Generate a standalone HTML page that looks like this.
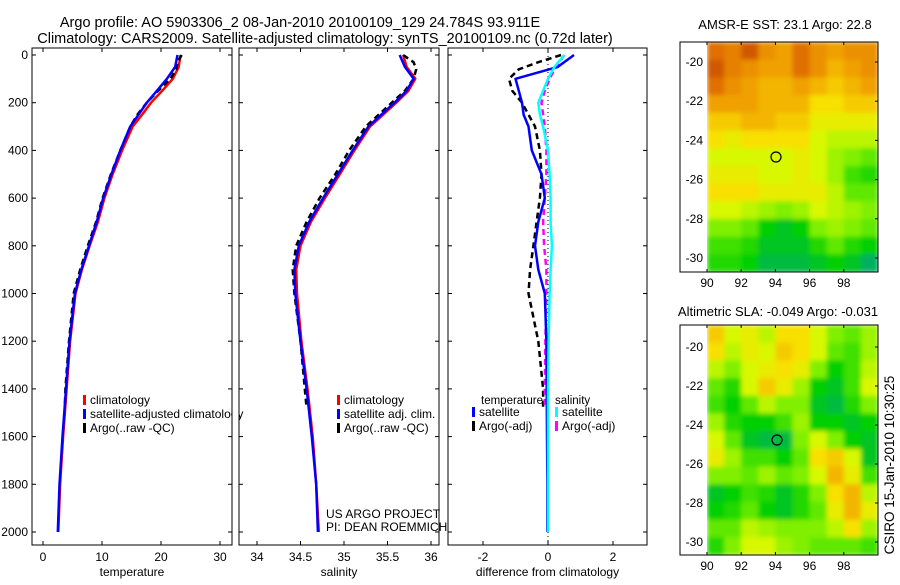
<!DOCTYPE html>
<html><head><meta charset="utf-8"><style>
body{margin:0;background:#fff;}
svg text{font-family:"Liberation Sans",sans-serif;font-size:12px;fill:#000;}
</style></head><body>
<svg id="c" width="900" height="580" xmlns="http://www.w3.org/2000/svg">
<defs>
<filter id="blur" x="0" y="0" width="1" height="1"><feGaussianBlur stdDeviation="2.5" edgeMode="duplicate"/></filter>
<clipPath id="clipTop"><rect x="707" y="42" width="171" height="230"/></clipPath>
<clipPath id="clipBot"><rect x="707" y="325" width="171" height="230"/></clipPath>
</defs>
<text x="300" y="27" text-anchor="middle" style="font-size:14.5px">Argo profile: AO 5903306_2 08-Jan-2010 20100109_129 24.784S 93.911E</text>
<text x="325" y="43" text-anchor="middle" style="font-size:14.5px">Climatology: CARS2009. Satellite-adjusted climatology: synTS_20100109.nc (0.72d later)</text>
<text x="785" y="29" text-anchor="middle" style="font-size:13px">AMSR-E SST: 23.1 Argo: 22.8</text>
<text x="778" y="316" text-anchor="middle" style="font-size:13px">Altimetric SLA: -0.049 Argo: -0.031</text>
<text transform="translate(894,465) rotate(-90)" text-anchor="middle" style="font-size:13.5px">CSIRO 15-Jan-2010 10:30:25</text>
<text x="326" y="518">US ARGO PROJECT</text>
<text x="326" y="531">PI: DEAN ROEMMICH</text>
</svg>
<script>
const depths=[0,50,100,150,200,250,300,400,500,600,700,800,900,1000,1200,1400,1600,1800,2000];
const tempClim=[23.3,23,22,20.2,18.3,16.8,15.2,13.4,11.8,10.4,9.3,7.9,6.6,5.5,4.6,4.0,3.4,2.9,2.6];
const tempSat=[22.8,22.4,21,19.3,17.6,16.2,14.8,13.1,11.6,10.2,9.1,7.8,6.5,5.4,4.5,3.9,3.3,2.8,2.5];
const argoDepths=[0,30,60,100,150,200,250,300,400,500,600,700,800,900,1000,1200,1400,1480];
const tempArgo=[23.5,22.8,22.6,21.6,19.5,17.6,16,14.8,13.1,11.5,10.1,9,7.6,6.3,5.2,4.4,3.8,3.7];
const salClim=[35.68,35.72,35.82,35.74,35.6,35.45,35.3,35.12,34.95,34.78,34.62,34.5,34.45,34.46,34.51,34.58,34.64,34.68,34.71];
const salSat=[35.64,35.7,35.8,35.72,35.58,35.43,35.28,35.1,34.93,34.76,34.6,34.48,34.43,34.44,34.5,34.57,34.63,34.68,34.7];
const salArgo=[35.68,35.8,35.83,35.8,35.7,35.55,35.4,35.25,35.06,34.9,34.72,34.57,34.45,34.41,34.43,34.5,34.55,34.57];
const dTempSat=[0.8,0.3,-1.0,-0.9,-0.8,-0.75,-0.6,-0.5,-0.2,-0.1,-0.3,-0.4,-0.3,-0.1,-0.05,-0.04,-0.03,-0.02,-0.02];
const dSalSat=[0.5,0.2,0.0,-0.15,-0.3,-0.25,-0.15,0.0,0.05,0.08,0.08,0.12,0.08,0.05,0.02,0.0,0.0,0.0,0.0];
const dTempArgo=[0.4,-0.3,-0.9,-1.2,-1.1,-0.8,-0.6,-0.4,-0.25,-0.2,-0.25,-0.35,-0.45,-0.55,-0.6,-0.3,-0.15,-0.15];
const dSalArgo=[0.5,0.35,0.2,0.05,-0.1,-0.2,-0.15,-0.1,-0.05,-0.05,-0.1,-0.15,-0.12,-0.05,-0.05,-0.08,-0.1,-0.1];
const depthTicks=[0,200,400,600,800,1000,1200,1400,1600,1800,2000];
const tempTicks=[0,10,20,30];
const salTicks=[34,34.5,35,35.5,36];
const diffTicks=[-2,0,2];
const lonTicks=[90,92,94,96,98];
const latTicks=[-20,-22,-24,-26,-28,-30];
const sstGrid=[
[.9,.85,.95,.8,.75,.9,.8,.75,.8,.8],
[.95,.85,.8,.75,.75,.9,.8,.7,.75,.8],
[.9,.8,.75,.7,.7,.75,.7,.65,.7,.75],
[.75,.75,.75,.7,.7,.7,.6,.6,.65,.65],
[.65,.65,.7,.7,.65,.65,.55,.55,.55,.55],
[.6,.55,.6,.6,.6,.6,.5,.45,.45,.45],
[.5,.5,.5,.5,.5,.55,.5,.4,.35,.3],
[.55,.55,.55,.5,.5,.55,.5,.4,.25,.2],
[.6,.6,.6,.55,.55,.55,.55,.45,.3,.3],
[.5,.5,.45,.4,.35,.4,.5,.45,.4,.35],
[.35,.35,.3,.15,.1,.15,.35,.4,.35,.3],
[.25,.25,.2,.1,.1,.1,.2,.3,.2,.15],
[.2,.2,.15,.05,.05,.05,.1,.15,.1,0]];
const slaGrid=[
[.65,.5,.55,.45,.6,.6,.5,.35,.3,.4],
[.6,.45,.55,.5,.65,.6,.5,.3,.25,.4],
[.45,.35,.5,.55,.6,.55,.35,.15,.25,.45],
[.3,.2,.5,.65,.55,.4,.15,.1,.25,.5],
[.25,.15,.3,.45,.35,.35,.1,.05,.2,.35],
[.4,.2,.15,.15,.25,.4,.15,.15,.1,.15],
[.5,.3,.1,.05,.05,.35,.5,.35,.15,.1],
[.55,.4,.25,.25,.15,.3,.6,.65,.5,.1],
[.35,.35,.3,.4,.3,.35,.5,.7,.55,.25],
[.1,.15,.25,.2,.1,.2,.35,.6,.7,.45],
[.15,.2,.3,.15,.1,.2,.3,.55,.7,.55],
[.3,.3,.45,.4,.35,.35,.35,.45,.6,.4],
[.2,.35,.5,.5,.4,.35,.3,.3,.3,.25]];

const svg=document.getElementById('c');
const NS='http://www.w3.org/2000/svg';
function mk(tag,attrs,parent){const e=document.createElementNS(NS,tag);for(const k in attrs)e.setAttribute(k,attrs[k]);(parent||svg).appendChild(e);return e;}
const Y=d=>55+d*0.2385;
const PT={l:32,r:232,x:v=>43+5.9*v};
const PS={l:239,r:439,x:v=>257+87*(v-34)};
const PD={l:448,r:647,x:v=>548+32.5*v};
const TOP=48,BOT=545;

function panel(P,name,ticks,fmt,xlabel,showY){
  const r=mk('rect',{x:P.l,y:TOP,width:P.r-P.l,height:BOT-TOP,fill:'none',stroke:'#000','stroke-width':1});
  
  
  ticks.forEach(t=>{const x=P.x(t);
    mk('line',{x1:x,x2:x,y1:BOT,y2:BOT-4,stroke:'#000'});
    mk('line',{x1:x,x2:x,y1:TOP,y2:TOP+4,stroke:'#000'});
    const tx=mk('text',{x:x,y:BOT+16,'text-anchor':'middle'});tx.textContent=fmt(t);
    
    });
  depthTicks.forEach(d=>{const y=Y(d);
    mk('line',{x1:P.l,x2:P.l+4,y1:y,y2:y,stroke:'#000'});
    mk('line',{x1:P.r,x2:P.r-4,y1:y,y2:y,stroke:'#000'});
    if(showY){const tx=mk('text',{x:P.l-4,y:y+4,'text-anchor':'end'});tx.textContent=d;
      
      }});
  const xl=mk('text',{x:(P.l+P.r)/2,y:BOT+31,'text-anchor':'middle'});xl.textContent=xlabel;
  
  
}
function line(P,ds,vals,color,dash,name,w){
  const pts=vals.map((v,i)=>P.x(v).toFixed(1)+','+Y(ds[i]).toFixed(1)).join(' ');
  const a={points:pts,fill:'none',stroke:color,'stroke-width':w||2.5,'stroke-linejoin':'round'};
  if(dash)a['stroke-dasharray']=dash;
  const e=mk('polyline',a);
  
  
}
panel(PT,'temperature',tempTicks,t=>t,'temperature',true);
panel(PS,'salinity',salTicks,t=>t,'salinity',false);
panel(PD,'difference',diffTicks,t=>t,'difference from climatology',false);
mk('line',{x1:PD.x(0),x2:PD.x(0),y1:TOP,y2:BOT,stroke:'#000','stroke-dasharray':'1,3'});

line(PT,depths,tempClim,'#f00',null,'temp-climatology-line');
line(PT,argoDepths,tempArgo,'#000','6,4','temp-argo-line');
line(PT,depths,tempSat,'#00f',null,'temp-satellite-line');
line(PS,depths,salClim,'#f00',null,'sal-climatology-line');
line(PS,argoDepths,salArgo,'#000','6,4','sal-argo-line');
line(PS,depths,salSat,'#00f',null,'sal-satellite-line');
line(PD,argoDepths,dTempArgo,'#000','6,4','dtemp-argo-line');
line(PD,argoDepths,dSalArgo,'#f0f','6,4','dsal-argo-line');
line(PD,depths,dTempSat,'#00f',null,'dtemp-satellite-line');
line(PD,depths,dSalSat,'#0ff',null,'dsal-satellite-line');

function legend(x,y,items,name){
  items.forEach((it,i)=>{
    const yy=y+i*14;
    mk('rect',{x:x,y:yy-9,width:3,height:10,fill:it[1]});
    const t=mk('text',{x:x+7,y:yy});t.textContent=it[0];
    
    
  });
}
legend(83,404,[['climatology','#f00'],['satellite-adjusted climatology','#00f'],['Argo(..raw -QC)','#000']],'temp-legend');
legend(337,404,[['climatology','#f00'],['satellite adj. clim.','#00f'],['Argo(..raw -QC)','#000']],'sal-legend');
let lt=mk('text',{x:481,y:404,style:'font-size:11.5px'});lt.textContent='temperature';
lt=mk('text',{x:555,y:404,style:'font-size:11.5px'});lt.textContent='salinity';
legend(472,416,[['satellite','#00f'],['Argo(-adj)','#000']],'dtemp-legend');
legend(555,416,[['satellite','#0ff'],['Argo(-adj)','#f0f']],'dsal-legend');
mk('rect',{x:232.5,y:395,width:6,height:30,fill:'#fff'});
mk('line',{x1:232,x2:232,y1:395,y2:425,stroke:'#000'});

const stops=[[0,[0,176,96]],[0.15,[0,208,0]],[0.35,[128,240,0]],[0.5,[216,248,0]],[0.6,[248,224,0]],[0.75,[240,160,0]],[0.9,[224,112,0]],[1,[192,64,0]]];
function cmap(v){for(let i=1;i<stops.length;i++){if(v<=stops[i][0]){const a=stops[i-1],b=stops[i],t=(v-a[0])/(b[0]-a[0]);
  return 'rgb('+a[1].map((c,k)=>Math.round(c+(b[1][k]-c)*t)).join(',')+')';}}return 'rgb(192,64,0)';}
function map(grid,top,bot,name,cx,cy,clip,lat0,latStep){
  const L=707,R=878,lonX=v=>707+(v-90)*17.1,latY=v=>lat0+(-20-v)*latStep;
  const rows=grid.length,cols=grid[0].length,cw=(R-L)/cols,ch=(bot-top)/rows;
  const g=mk('g',{'clip-path':'url(#'+clip+')'});
  const gi=mk('g',{filter:'url(#blur)'},g);
  grid.forEach((row,i)=>row.forEach((v,j)=>{
    const c=mk('rect',{x:L+j*cw,y:top+i*ch,width:cw+0.5,height:ch+0.5,fill:cmap(v)},gi);
    
    }));
  const fr=mk('rect',{x:680,y:top,width:R-680,height:bot-top,fill:'none',stroke:'#000'});
  
  
  lonTicks.forEach(t=>{const x=lonX(t);mk('line',{x1:x,x2:x,y1:top,y2:top+3,stroke:'#000'});mk('line',{x1:x,x2:x,y1:bot,y2:bot-3,stroke:'#000'});
    const tx=mk('text',{x:x,y:bot+15,'text-anchor':'middle'});tx.textContent=t;
    
    });
  latTicks.forEach(t=>{const y=latY(t);mk('line',{x1:R,x2:R-3,y1:y,y2:y,stroke:'#000'});
    const t2=mk('text',{x:703,y:y+4,'text-anchor':'end'});t2.textContent=t;
    
    });
  const ci=mk('circle',{cx:cx,cy:cy,r:5,fill:'none',stroke:'#000','stroke-width':1.2});
  
  
}
map(sstGrid,42,272,'sst-map',776,157,'clipTop',62,19.6);
map(slaGrid,325,555,'sla-map',777,440,'clipBot',347,19.5);
</script>
</body></html>
